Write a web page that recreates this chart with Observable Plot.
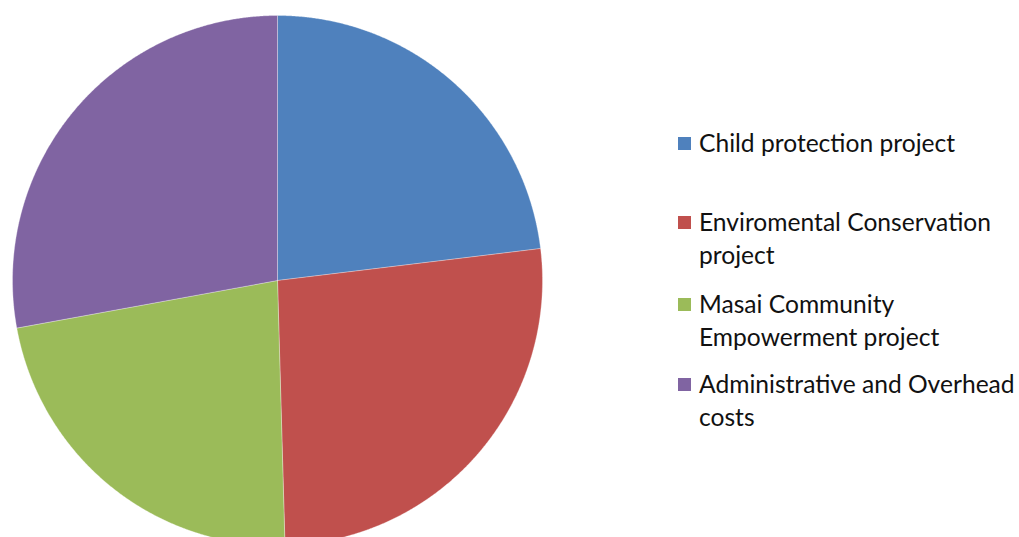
<!DOCTYPE html>
<html>
<head>
<meta charset="utf-8">
<script src="https://cdn.jsdelivr.net/npm/d3@7"></script>
<script src="https://cdn.jsdelivr.net/npm/@observablehq/plot@0.6"></script>
<style>
  html, body { margin: 0; padding: 0; background: #fff; }
  #wrap { position: relative; width: 1019px; height: 537px; overflow: hidden; }
  #legend { position: absolute; left: 678px; top: 0; font-family: Lato, "Open Sans", sans-serif; font-size: 24.6px; color: #111; }
  .item { position: absolute; left: 0; white-space: nowrap; line-height: 33px; }
  .sw { position: absolute; left: 0; top: 11px; width: 13px; height: 13px; }
  .lbl { position: absolute; left: 21px; top: 0; }
</style>
</head>
<body>
<div id="wrap"><div id="legend"></div></div>
<script>
const categories = ["Child protection project", "Enviromental Conservation project", "Masai Community Empowerment project", "Administrative and Overhead costs"];
const values = [23.1, 26.5, 22.6, 27.9];
const colors = ["#4F81BD", "#C0504D", "#9BBB59", "#8064A2"];
const legendLines = [["Child protection project"], ["Enviromental Conservation", "project"], ["Masai Community", "Empowerment project"], ["Administrative and Overhead", "costs"]];
const legendTops = [126, 205, 287, 367];

const W = 1019, H = 537, R = 265, CX = 277, CY = 280;

const pie = d3.pie().sort(null).value(d => d.value)(categories.map((name, i) => ({name, value: values[i]})));
const pts = [];
for (const s of pie) {
  const a0 = s.startAngle, a1 = s.endAngle;
  const n = Math.max(2, Math.ceil((a1 - a0) / (Math.PI / 720)));
  pts.push({name: s.data.name, x: 0, y: 0});
  for (let k = 0; k <= n; k++) {
    const a = a0 + (a1 - a0) * k / n;
    pts.push({name: s.data.name, x: Math.sin(a), y: Math.cos(a)});
  }
  pts.push({name: s.data.name, x: 0, y: 0});
}

const chart = Plot.plot({
  width: W, height: H,
  margin: 0,
  x: {domain: [-CX / R, (W - CX) / R], axis: null},
  y: {domain: [-(H - CY) / R, CY / R], axis: null},
  color: {domain: categories, range: colors},
  marks: [
    Plot.line(pts, {x: "x", y: "y", z: "name", fill: "name", stroke: "white", strokeWidth: 0.6, strokeOpacity: 0.5, curve: "linear"})
  ]
});
chart.style.position = "absolute";
chart.style.left = "0";
chart.style.top = "0";
document.getElementById("wrap").prepend(chart);

const legend = document.getElementById("legend");
categories.forEach((c, i) => {
  const it = document.createElement("div");
  it.className = "item";
  it.style.top = legendTops[i] + "px";
  const sw = document.createElement("div");
  sw.className = "sw";
  sw.style.background = colors[i];
  const lbl = document.createElement("div");
  lbl.className = "lbl";
  lbl.innerHTML = legendLines[i].join("<br>");
  it.appendChild(sw); it.appendChild(lbl);
  legend.appendChild(it);
});
</script>
</body>
</html>
